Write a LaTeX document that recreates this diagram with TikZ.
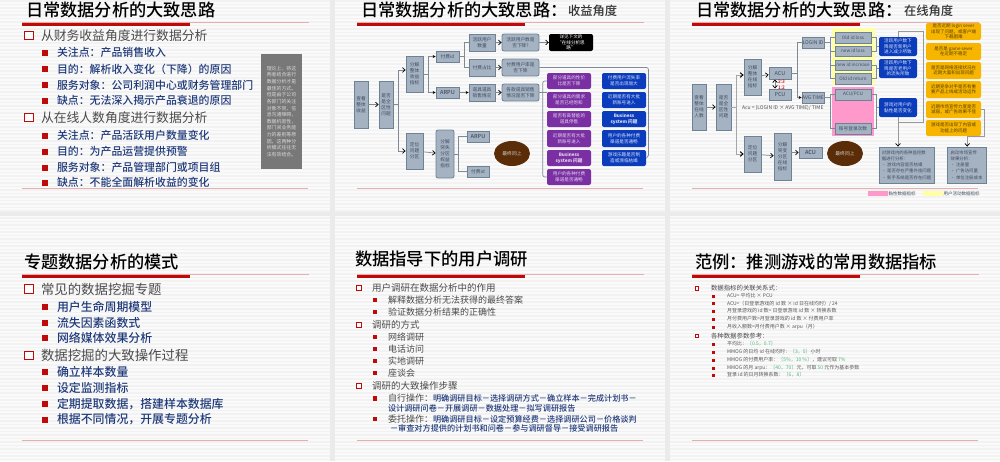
\documentclass[tikz,border=0pt]{standalone}
\usepackage{fontspec}
\setmainfont{Noto Sans CJK SC}
\newfontfamily\med{Noto Sans CJK SC Medium}
\usetikzlibrary{arrows.meta,shapes.geometric}
\definecolor{navy}{HTML}{1F3A7A}
\definecolor{boxfill}{HTML}{A4B2C2}
\definecolor{boxline}{HTML}{6E8296}
\definecolor{boxtext}{HTML}{3F4E60}
\definecolor{redbar}{HTML}{C00A0A}
\definecolor{thinred}{HTML}{E6AFAF}
\definecolor{grayt}{HTML}{4A4A4A}
\definecolor{purp}{HTML}{7A2FA3}
\definecolor{blu}{HTML}{0A3CBC}
\definecolor{orng}{HTML}{F7B500}
\definecolor{pinkf}{HTML}{FF99CC}
\definecolor{pale}{HTML}{FFFFA6}
\definecolor{conn}{HTML}{808A94}
\definecolor{grn}{HTML}{4DB877}
\definecolor{brwn}{HTML}{5A2D08}
\newcounter{nn}
\newcommand{\fsz}[1]{\fontsize{#1pt}{#1pt}\selectfont}
% generic text: [style] x y text
\newcommand{\tx}[4][]{\stepcounter{nn}\node[txt,#1] (t\arabic{nn}) at (#2,#3) {#4};}
% box by corners: name x1 y1 x2 y2 style text
\newcommand{\bx}[7]{%
 \pgfmathsetmacro{\cxx}{(#2+#4)/2}\pgfmathsetmacro{\cyy}{(#3+#5)/2}%
 \pgfmathsetmacro{\www}{#4-#2}\pgfmathsetmacro{\hhh}{#5-#3}%
 \node[#6,minimum width=\www pt,minimum height=\hhh pt] (#1) at (\cxx,\cyy) {#7};}
\newcommand{\LA}[5]{\stepcounter{nn}\node[lone,minimum size=#4pt] (b\arabic{nn}) at (#1,#3) {};\tx[text=grayt]{#2}{#3}{#5}}
\newcommand{\LB}[5]{\stepcounter{nn}\node[ltwo,minimum size=#4pt] (b\arabic{nn}) at (#1,#3) {};\tx{#2}{#3}{#5}}
\newcommand{\head}[3]{%
 \draw[thinred,line width=.8pt] (#1,#3) -- ({#1+287},#3);
 \fill[redbar] (#1,#3) rectangle ({#1+168},{#3+3.6});
 \draw[thinred,line width=.7pt] (#1,#2) -- ({#1+286},#2);}
\tikzset{
 txt/.style={anchor=west,inner sep=0pt,outer sep=0pt},
 lone/.style={draw=redbar,line width=.9pt,fill=white,inner sep=0pt},
 ltwo/.style={fill=redbar,inner sep=0pt},
 sq/.style={draw=boxline,fill=boxfill,line width=.8pt,inner sep=0pt,align=center,text=boxtext,font={\fontsize{4.7pt}{6pt}\selectfont}},
 rd/.style={sq,rounded corners=2pt},
 lab/.style={sq,font=\fsz{5.5}\med},
 black box/.style={fill=black,rounded corners=2pt,inner sep=0pt,align=center,text=white,font={\fontsize{4.6pt}{5.4pt}\selectfont}},
 purple box/.style={fill=purp,rounded corners=2pt,inner sep=0pt,align=center,text=white!80!purp,font={\fontsize{4.6pt}{5.7pt}\selectfont}},
 blue box/.style={fill=blu,rounded corners=2pt,inner sep=0pt,align=center,text=white!85!blu,font={\fontsize{4.6pt}{5.7pt}\selectfont}},
 orange box/.style={fill=orng,rounded corners=2pt,inner sep=0pt,align=center,text=black!65!orng,font={\fontsize{4.5pt}{5.5pt}\selectfont}},
 grey panel/.style={sq,align=left,font={\fontsize{4.4pt}{6.2pt}\selectfont}},
 egg/.style={fill=brwn,ellipse,minimum width=36pt,minimum height=25pt,inner sep=0pt,text=white!75!brwn,font=\fsz{4.8}},
 wire/.style={draw=conn,line width=.7pt},
 awire/.style={wire,-{Straight Barb[length=2.6pt,width=4.6pt,color=black]}},
 swire/.style={wire,-{Stealth[length=3pt,width=3pt,color=black]}},
}
\begin{document}
\begin{tikzpicture}[x=1pt,y=-1pt]
\useasboundingbox (0,0) rectangle (1000,461);
\fill[white!98!black] (0,0) rectangle (1000,461);
\foreach \yy in {1,4.5,...,461} \draw[black!5,line width=1.4pt] (0,\yy) -- (1000,\yy);
\fill[black!8] (330,0) rectangle (335,461);
\fill[black!8] (665,0) rectangle (670,461);
\fill[black!8] (0,212) rectangle (1000,216);

% ---------- slide 1
\head{22}{188}{22.7}
\tx{26}{9.5}{\fsz{17.2}\med 日常数据分析的大致思路}
\LA{29}{41}{35.5}{8.5}{\fsz{12.8}从财务收益角度进行数据分析}
\LB{45}{57}{52.5}{6}{\fsz{10.9}\med\color{navy}关注点：产品销售收入}
\LB{45}{57}{69}{6}{\fsz{10.9}\med\color{navy}目的：解析收入变化（下降）的原因}
\LB{45}{57}{85}{6}{\fsz{10.9}\med\color{navy}服务对象：公司利润中心或财务管理部门}
\LB{45}{57}{100.5}{6}{\fsz{10.9}\med\color{navy}缺点：无法深入揭示产品衰退的原因}
\LA{29}{41}{117.5}{8.5}{\fsz{12.8}从在线人数角度进行数据分析}
\LB{45}{57}{135.5}{6}{\fsz{10.9}\med\color{navy}关注点：产品活跃用户数量变化}
\LB{45}{57}{151.5}{6}{\fsz{10.9}\med\color{navy}目的：为产品运营提供预警}
\LB{45}{57}{167.5}{6}{\fsz{10.9}\med\color{navy}服务对象：产品管理部门或项目组}
\LB{45}{57}{182.5}{6}{\fsz{10.9}\med\color{navy}缺点：不能全面解析收益的变化}
\bx{note}{261}{54}{302}{169}{fill=black!53,inner sep=0pt,align=center,text=white!85!black,font={\fontsize{4.9pt}{6.65pt}\selectfont}}{理论上，将这\\两者结合进行\\数据分析才是\\最佳的方式。\\但是由于公司\\各部门的关注\\对象不同，信\\息沟通障碍，\\数据机密性，\\部门间业务能\\力的差别等原\\因，这两种分\\析模式往往无\\法有效结合。}

% ---------- slide 2
\head{357}{188}{22.7}
\tx{361}{9.5}{\fsz{17.2}\med 日常数据分析的大致思路：}
\tx{568}{11}{\fsz{12.3}\med\color{black!80}收益角度}
\bx{a}{354}{81}{368}{128}{sq}{查看\\整体\\收益}
\bx{b}{379}{81}{393}{128}{sq}{是否\\是全\\区性\\问题}
\bx{c}{406}{56}{423}{92}{sq}{分解\\整体\\收益\\指标}
\bx{d}{406}{133}{423}{169}{sq}{定位\\问题\\分区}
\bx{e}{436}{51}{459}{62}{sq}{付费id}
\bx{f}{436}{87}{459}{98}{lab}{ARPU}
\bx{g}{469}{34}{495}{51}{sq}{活跃用户\\数量}
\bx{h}{469}{59}{495}{76}{sq}{付费占比}
\bx{i}{469}{84}{495}{101}{sq}{道具道具\\销售情况}
\bx{j}{436}{130}{454}{178}{rd}{分解\\突失\\分区\\权益\\指标}
\bx{k}{467}{131}{489}{142}{lab}{ARPU}
\bx{l}{467}{166}{489}{177}{sq}{付费id}
\node[egg] (el1) at (512,153.5) {最终同上};
\bx{m}{502}{34}{539}{51}{rd}{活跃用户数是\\否下降?}
\bx{n}{502}{59}{539}{76}{rd}{付费用户率是\\否下降}
\bx{o}{502}{84}{539}{101}{rd}{各款道具销售\\情况是否下降}
\bx{p}{549}{34}{593}{51}{black box}{详见下文的\\“在线分析思\\路”}
\bx{p1}{547}{73}{591}{89}{purple box}{部分道具的性价\\比是否下降}
\bx{p2}{547}{92}{591}{108}{purple box}{部分道具的需求\\是否已经饱和}
\bx{p3}{547}{111}{591}{127}{purple box}{是否有高替能的\\道具停售}
\bx{p4}{547}{130}{591}{147}{purple box}{近期是否有大批\\新账号进入}
\bx{p5}{547}{150}{591}{166}{purple box}{\textbf{Business}\\\textbf{system 问题}}
\bx{p6}{547}{169}{591}{185}{purple box}{用户的各种付费\\渠道是否通畅}
\bx{q1}{602}{73}{646}{89}{blue box}{付费用户流失率\\是否出现增大}
\bx{q2}{602}{92}{646}{108}{blue box}{近期是否有大批\\新账号进入}
\bx{q3}{602}{111}{646}{127}{blue box}{\textbf{Business}\\\textbf{system 问题}}
\bx{q4}{602}{130}{646}{147}{blue box}{用户的各种付费\\渠道是否通畅}
\bx{q5}{602}{150}{646}{166}{blue box}{游戏乐趣是否制\\造或濒临枯竭}
\draw[awire] (a) -- (b);
\draw[awire] (b.east) -- ++(5,0) |- ([yshift=4pt]c.west);
\draw[awire] (b.east) -- ++(5,0) |- (d.west);
\draw[swire] (c.east) -- ++(5,0) |- (e.west);
\draw[swire] (c.east) -- ++(5,0) |- (f.west);
\draw[wire] (e.east) -- ++(5,0) |- (g.west);
\draw[wire] (e.east) -- ++(5,0) |- (h.west);
\draw[swire] (f) -- (i);
\draw[awire] (g) -- (m);
\draw[awire] (h) -- (n);
\draw[awire] (i) -- (o);
\draw[awire] (m) -- (p);
\draw[awire] (d) -- (j);
\draw[wire] (j.east) -- ++(4,0) |- (k.west);
\draw[wire] (j.east) -- ++(4,0) |- (l.west);
\draw[wire,rounded corners=2pt] (n.east) -- ++(109,0) -- ++(0,90) -- (q5.east);
\draw[wire,rounded corners=2pt] (p1.west) ++(0,0) -- ++(-4,0) |- (p6.west);
\draw[wire] (o.east) -- (o.east -| p1.west);

% ---------- slide 3
\head{692}{188}{22.7}
\tx{696}{9.5}{\fsz{17.2}\med 日常数据分析的大致思路：}
\tx{904}{11}{\fsz{12.3}\med\color{black!80}在线角度}
\fill[pale] (832,28) rectangle (875,85);
\fill[pinkf] (832,87) rectangle (874,136);
\bx{ra}{692}{84}{706}{130}{sq}{查看\\整体\\在线\\人数}
\bx{rb}{716}{84}{731}{130}{sq}{是否\\是全\\区性\\问题}
\bx{rc}{744}{59}{761}{95}{sq}{分解\\整体\\在线\\指标}
\bx{rd1}{744}{136}{761}{172}{sq}{定位\\问题\\分区}
\bx{re}{769}{67}{791}{79}{sq,font=\fsz{5.5}}{ACU}
\bx{rf}{769}{89}{791}{100}{sq,font=\fsz{5.5}}{PCU}
\bx{rg}{802}{37}{824}{48}{sq,font=\fsz{5}}{LOGIN ID}
\bx{rh}{802}{92}{824}{103}{sq,font=\fsz{5}}{AVG TIME}
\bx{rj}{774}{133}{791}{180}{sq}{分解\\突变\\分区\\在线\\指标}
\bx{rk}{799}{147}{822}{158}{lab}{ACU}
\tx{742}{107.5}{\fsz{5}\color{black!70}Acu = (LOGIN ID ×  AVG TIME)/ TIME}
\tx{778}{82}{\fsz{4.8}\med\color{red!80!black}2:3}
\tx{778}{88}{\fsz{4.8}\med\color{red!80!black}1:2}
\node[egg] (el2) at (845,153.5) {最终同上};
\bx{s1}{835}{32}{871}{43}{sq,font=\fsz{4.6}}{Old id loss}
\bx{s2}{835}{46}{871}{56}{sq,font=\fsz{4.6}}{new id loss}
\bx{s3}{835}{60}{871}{70}{sq,font=\fsz{4.6}}{new id increase}
\bx{s4}{835}{73}{871}{84}{sq,font=\fsz{4.6}}{Old id return}
\bx{s5}{835}{89}{871}{100}{sq,font=\fsz{4.6}}{ACU/PCU}
\bx{s6}{835}{123}{871}{134}{sq}{账号登录次数}
\bx{u1}{879}{37}{917}{56}{blue box}{活跃用户数下\\降是否新用户\\进入减少所致}
\bx{u2}{879}{59}{917}{78}{blue box}{活跃用户数下\\降是否老用户\\的流失所致}
\bx{u3}{879}{98}{917}{117}{blue box}{游戏对用户的\\黏性是否变化}
\bx{v1}{926}{23}{981}{40}{orange box}{是否近期 login sever\\出现了问题，或客户端\\下载困难}
\bx{v2}{926}{43}{981}{60}{orange box}{是否是 game sever\\在近期不稳定}
\bx{v3}{926}{62}{981}{79}{orange box}{是否是网络连接状况在\\近期大面积出现问题}
\bx{v4}{926}{81}{981}{98}{orange box}{近期竞争对手是否有重\\要产品上线或活动运作}
\bx{v5}{926}{101}{981}{118}{orange box}{近期市场宣传力度是否\\减弱，或广告效果不佳}
\bx{v6}{926}{120}{981}{136}{orange box}{游戏是否出现了内容或\\功能上的问题}
\bx{w1}{879}{147}{934}{183}{grey panel}{对游戏内的各种监控数\\据进行分析：\\• 游戏内容是否枯竭\\• 是否存在严重外挂问题\\• 新手系统是否存在问题}
\bx{w2}{947}{147}{986}{183}{grey panel}{启动市场宣传\\效果分析：\\• 注册量\\• 广告访问量\\• 单位注册成本}
\bx{lg1}{868}{191}{888}{196}{fill=pinkf,inner sep=0pt}{}
\bx{lg2}{923}{191}{943}{196}{fill=pale,inner sep=0pt}{}
\node[txt,font=\fsz{4.5},text=boxtext] (lgt1) at (888.5,193.5) {黏性数据指标};
\node[txt,font=\fsz{4.5},text=boxtext] (lgt2) at (943.5,193.5) {用户活动数据指标};
\draw[awire] (ra) -- (rb);
\draw[awire,draw=black!35,line width=1pt] (rb.east) -- ++(5,0) |- ([yshift=2pt]rc.west);
\draw[awire,draw=black!35,line width=1pt] (rb.east) -- ++(5,0) |- (rd1.west);
\draw[awire] (rc) -- (re);
\draw[awire] (rd1) -- (rj);
\draw[awire] (rj.east |- rk.west) -- (rk.west);
\draw[wire,{Straight Barb[length=2.6pt,width=4.6pt,color=black]}-{Straight Barb[length=2.6pt,width=4.6pt,color=black]}] (775,79.5) coordinate (ar1) -- (775,88.5) coordinate (ar2);
\draw[wire] (re.east) -- ++(6,0) |- (rg.west);
\draw[swire] (re.east) -- ++(6,0) |- (rh.west);
\draw[wire] (rg.east) -- ++(6,0) |- (s1.west);
\draw[wire] (rg.east) -- ++(6,0) |- (s2.west);
\draw[wire] (rg.east) -- ++(6,0) |- (s3.west);
\draw[wire] (rg.east) -- ++(6,0) |- (s4.west);
\draw[wire] (rh.east) -- ++(6,0) |- (s5.west);
\draw[wire] (rh.east) -- ++(6,0) |- (s6.west);
\draw[wire] (s1.east) -- ++(5,0) |- (u1.west);
\draw[wire] (s2.east) -- ++(5,0) |- (u1.west);
\draw[wire] (s3.east) -- ++(5,0) |- (u2.west);
\draw[wire] (s4.east) -- ++(5,0) |- (u2.west);
\draw[wire] (s5.east) -- ++(5,0) |- (u3.west);
\draw[wire] (s6.east) -- ++(5,0) |- (u3.west);
\draw[wire,draw=black!40] (u1.north) -- ++(0,-5) -- ++(25,0) -- ++(0,90.5) -- ++(-25,0) coordinate (tr);
\draw[awire,draw=black!40] (u3.south) -- (tr) -- (w1.north -| tr);
\draw[awire,draw=black!40] (v5.east) -- ++(3,0) -- ++(0,27) -- ++(-17,0) coordinate (tr2) -- (w2.north -| tr2);

% ---------- slide 4
\head{22}{440}{274.5}
\tx{24}{262}{\fsz{17.2}\med 专题数据分析的模式}
\LA{29}{41}{289}{8.5}{\fsz{13.4}常见的数据挖掘专题}
\LB{45}{57}{306.5}{6}{\fsz{11.9}\med\color{navy}用户生命周期模型}
\LB{45}{57}{322.5}{6}{\fsz{11.9}\med\color{navy}流失因素函数式}
\LB{45}{57}{338}{6}{\fsz{11.9}\med\color{navy}网络媒体效果分析}
\LA{29}{41}{355.5}{8.5}{\fsz{13.4}数据挖掘的大致操作过程}
\LB{45}{57}{372}{6}{\fsz{11.9}\med\color{navy}确立样本数量}
\LB{45}{57}{388}{6}{\fsz{11.9}\med\color{navy}设定监测指标}
\LB{45}{57}{404}{6}{\fsz{11.9}\med\color{navy}定期提取数据，搭建样本数据库}
\LB{45}{57}{419.5}{6}{\fsz{11.9}\med\color{navy}根据不同情况，开展专题分析}

% ---------- slide 5
\head{357}{440}{274.5}
\tx{355}{259}{\fsz{17.3}\med 数据指导下的用户调研}
\LA{359}{372}{288}{5.5}{\fsz{9.5}用户调研在数据分析中的作用}
\LB{375}{388}{300}{4.8}{\fsz{9}\color{grayt}解释数据分析无法获得的最终答案}
\LB{375}{388}{312}{4.8}{\fsz{9}\color{grayt}验证数据分析结果的正确性}
\LA{359}{372}{325}{5.5}{\fsz{9.5}调研的方式}
\LB{375}{388}{337}{4.8}{\fsz{9}\color{grayt}网络调研}
\LB{375}{388}{349}{4.8}{\fsz{9}\color{grayt}电话访问}
\LB{375}{388}{361}{4.8}{\fsz{9}\color{grayt}实地调研}
\LB{375}{388}{373}{4.8}{\fsz{9}\color{grayt}座谈会}
\LA{359}{372}{386}{5.5}{\fsz{9.5}调研的大致操作步骤}
\LB{375}{388}{398.5}{4.8}{{\fsz{9}\color{grayt}自行操作：}{\fsz{8.15}\med\color{navy}明确调研目标－选择调研方式－确立样本－完成计划书－}}
\tx{388}{408}{\fsz{8.15}\med\color{navy}设计调研问卷－开展调研－数据处理－拟写调研报告}
\LB{375}{388}{419}{4.8}{{\fsz{9}\color{grayt}委托操作：}{\fsz{8.15}\med\color{navy}明确调研目标－设定预算经费－选择调研公司－价格谈判}}
\tx{390}{428.5}{\fsz{8.15}\med\color{navy}－审查对方提供的计划书和问卷－参与调研督导－接受调研报告}

% ---------- slide 6
\head{692}{440}{274.5}
\tx{695}{262}{\fsz{17.3}\med 范例：推测游戏的常用数据指标}
\LA{697}{711}{288.5}{3.8}{\fsz{6.4}数据指标的关联关系式：}
\LB{713}{727}{296}{3}{\fsz{5}\color{black!65}ACU= 平均比 × PCU}
\LB{713}{727}{303.5}{3}{\fsz{5}\color{black!65}ACU=（日登录游戏的 id 数 × id 日在线均时）/ 24}
\LB{713}{727}{311}{3}{\fsz{5}\color{black!65}月登录游戏的 id 数= 日登录游戏 id 数 × 转换系数}
\LB{713}{727}{319}{3}{\fsz{5}\color{black!65}月付费用户数=月登录游戏的 id 数 × 付费用户率}
\LB{713}{727}{327}{3}{\fsz{5}\color{black!65}月收入额数=月付费用户数 × arpu（月）}
\LA{697}{711}{336}{3.8}{\fsz{6.4}各种数据参数参考：}
\LB{713}{727}{344}{3}{\fsz{5}\color{black!65}平均比：\textcolor{grn}{〔0.5，0.7〕}}
\LB{713}{727}{352}{3}{\fsz{5}\color{black!65}MMOG 的日均 id 在线均时：\textcolor{grn}{〔3，5〕}小时}
\LB{713}{727}{360}{3}{\fsz{5}\color{black!65}MMOG 的付费用户率：\textcolor{grn}{〔5\%，10 \%〕}，建议可取 \textcolor{grn}{7\%}}
\LB{713}{727}{368}{3}{\fsz{5}\color{black!65}MMOG 的月 arpu：\textcolor{grn}{〔40，70〕}元，可取 \textcolor{grn}{50} 元作为基本参数}
\LB{713}{727}{375}{3}{\fsz{5}\color{black!65}登录 id 的日月转换系数：\textcolor{grn}{〔6，8〕}}
\end{tikzpicture}
\end{document}
